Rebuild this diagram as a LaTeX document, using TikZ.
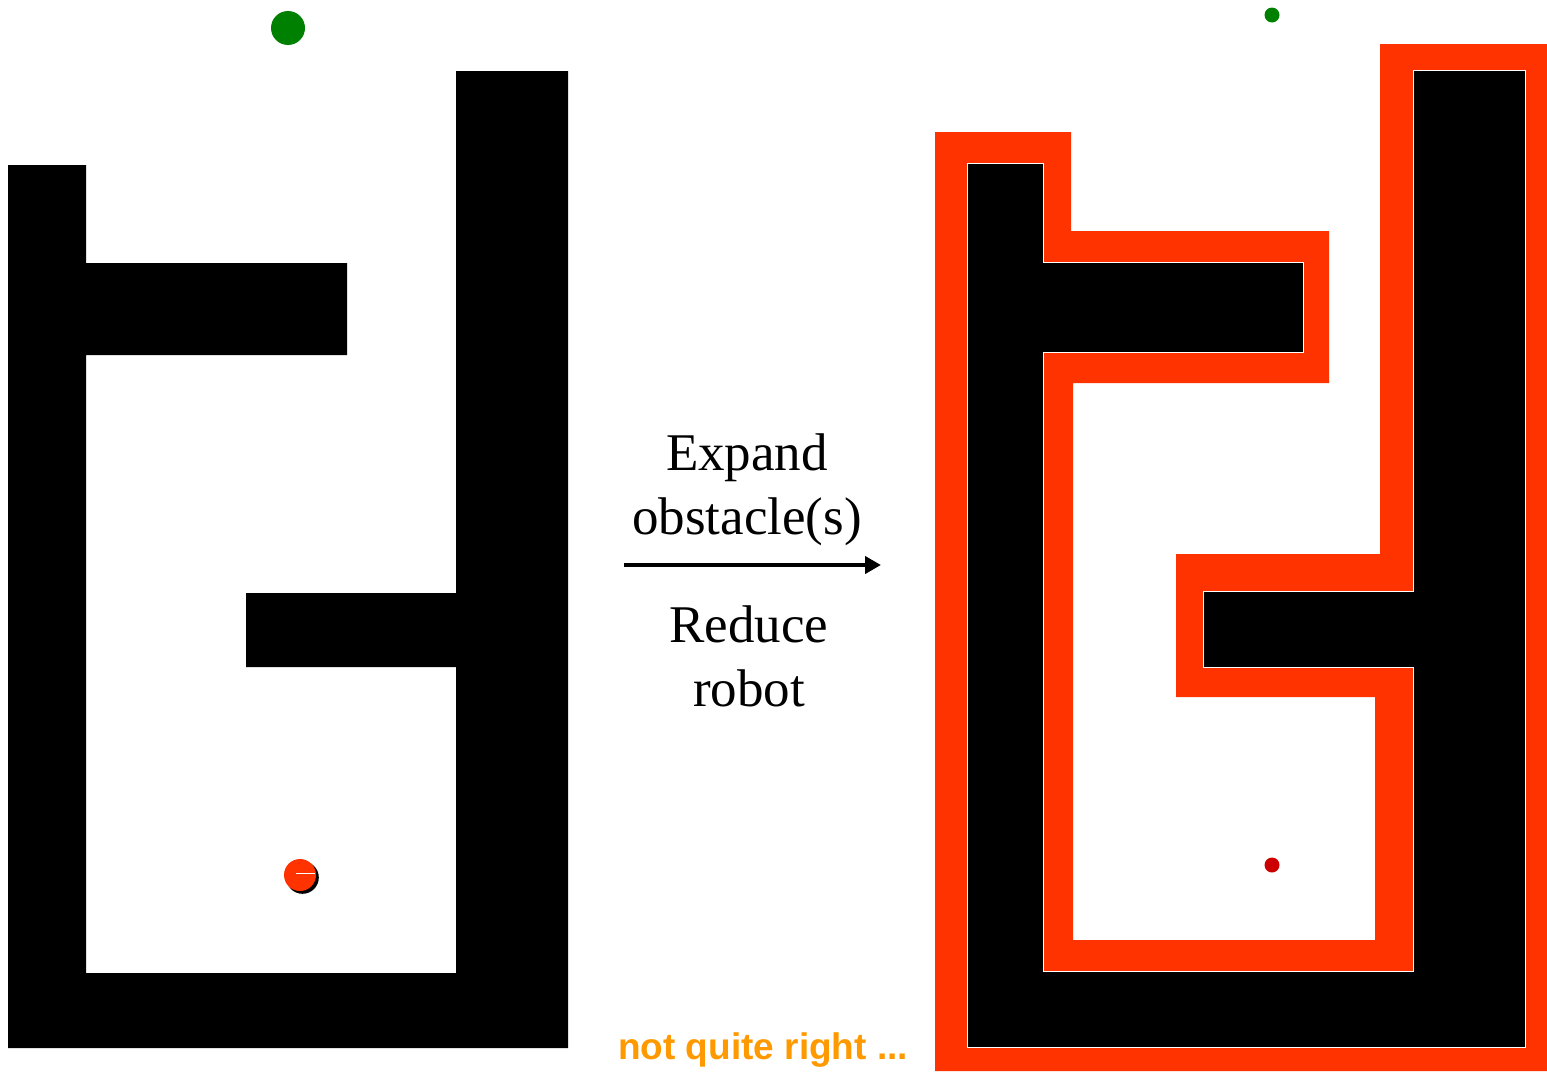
\documentclass[tikz,border=0pt]{standalone}
\usepackage{fontspec}
\setmainfont{Liberation Serif}
\newfontfamily\labelsans{Liberation Sans}
\usetikzlibrary{arrows.meta}
\definecolor{expred}{HTML}{FF3300}
\definecolor{goalgreen}{HTML}{008000}
\definecolor{robotred}{HTML}{FF3300}
\definecolor{darkdot}{HTML}{CC0000}
\definecolor{noteorange}{HTML}{FF9900}
\tikzset{
  wall/.style={fill=black},
  expanded/.style={fill=expred},
  caption/.style={font=\fontsize{53}{64}\selectfont, anchor=base, inner sep=0pt},
  note/.style={font=\labelsans\bfseries\fontsize{37}{44}\selectfont, text=noteorange, anchor=base west, inner sep=0pt},
  maparrow/.style={line width=4pt, -{Triangle[length=16pt,width=17pt]}}
}
\begin{document}
\begin{tikzpicture}[x=1pt,y=-1pt]
\useasboundingbox (0,0) rectangle (1547,1071);
% left maze
\fill[wall] (8,165) -- (86,165) -- (86,263) -- (347,263) -- (347,355) -- (86,355) -- (86,973) -- (456,973) -- (456,667) -- (246,667) -- (246,593) -- (456,593) -- (456,71) -- (568,71) -- (568,1048) -- (8,1048) -- cycle;
% goal and robot (left)
\fill[goalgreen] (288,28) circle (17);
\fill[black] (302.5,877.5) circle (16.3);
\fill[robotred] (300,875) circle (16);
\draw[white, line width=1pt] (296,873) -- (315,873);
% right: expanded obstacle
\fill[expanded] (935,132) -- (1071,132) -- (1071,231) -- (1329,231) -- (1329,383) -- (1073,383) -- (1073,940) -- (1375,940) -- (1375,697) -- (1176,697) -- (1176,554) -- (1380,554) -- (1380,44) -- (1547,44) -- (1547,1071) -- (935,1071) -- cycle;
\filldraw[wall, draw=white, line width=0.8pt] (967,163) -- (1043,163) -- (1043,262) -- (1303,262) -- (1303,352) -- (1043,352) -- (1043,971) -- (1413,971) -- (1413,667) -- (1203,667) -- (1203,591) -- (1413,591) -- (1413,70) -- (1525,70) -- (1525,1047) -- (967,1047) -- cycle;
\fill[goalgreen] (1272,15) circle (7.5);
\fill[darkdot] (1272,865) circle (7.5);
% middle labels and arrow
\node[caption] (expand) at (747,470) {Expand};
\node[caption] (obst) at (747,534) {obstacle(s)};
\node[caption] (reduce) at (749,642) {Reduce};
\node[caption] (robot) at (749,706) {robot};
\coordinate (arrA) at (624,565);
\coordinate (arrB) at (881,565);
\draw[maparrow] (arrA) -- (arrB);
\node[note] (notright) at (618,1059) {not quite right ...};
\end{tikzpicture}
\end{document}
